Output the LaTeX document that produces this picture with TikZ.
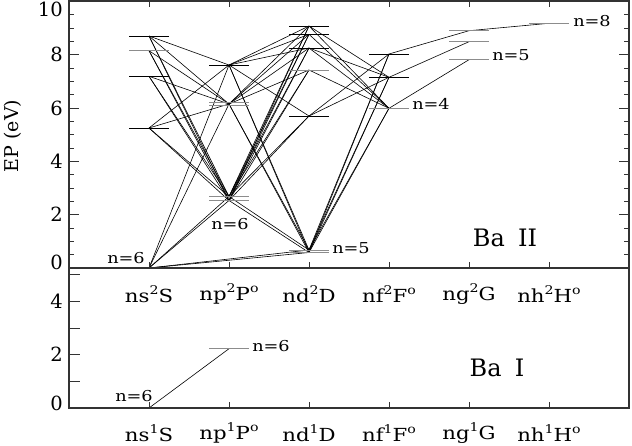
\documentclass[tikz,border=0pt]{standalone}
\usepackage{fontspec}
\setmainfont{DejaVu Serif}
\newcommand{\sps}[1]{\raisebox{0.45em}{\fontsize{12}{12}\selectfont #1}}
\newcommand{\wide}[1]{\scalebox{1.18}[1]{#1}}
\begin{document}
\begin{tikzpicture}[x=1pt,y=-1pt,
  frame/.style={line width=2pt, draw=black!80},
  tickm/.style={line width=1pt, draw=black!80},
  lev/.style={line width=1pt, draw=black},
  levg/.style={line width=1pt, draw=black!45},
  tr/.style={line width=0.6pt, draw=black},
  lab/.style={font=\fontsize{18}{20}\selectfont, inner sep=0pt},
  num/.style={font=\fontsize{19.5}{22}\selectfont, anchor=east, inner sep=0pt},
  nlab/.style={font=\fontsize{15}{16}\selectfont, inner sep=0pt},
  big/.style={font=\fontsize{24}{26}\selectfont, inner sep=0pt}]
\useasboundingbox (0,0) rectangle (632,445);
% ---- level coordinates (upper panel: y = 268 - 26.67 E) ----
\coordinate (S6) at (149,268);
\coordinate (S7) at (149,128);
\coordinate (S8) at (149,76.3);
\coordinate (S9) at (149,50.7);
\coordinate (S10) at (149,36);
\coordinate (P6a) at (229,196.5);
\coordinate (P6b) at (229,200.5);
\coordinate (P7) at (229,104);
\coordinate (P7a) at (229,102.5);
\coordinate (P7b) at (229,105.3);
\coordinate (P8) at (229,65);
\coordinate (D5a) at (309,250);
\coordinate (D5b) at (309,252.5);
\coordinate (D6) at (309,116);
\coordinate (D7) at (309,70);
\coordinate (D8) at (309,48);
\coordinate (D9) at (309,34.3);
\coordinate (D10) at (309,26);
\coordinate (F4) at (389,108.3);
\coordinate (F5) at (389,77.3);
\coordinate (F6) at (389,54);
\coordinate (G5) at (469,59.7);
\coordinate (G6) at (469,41.7);
\coordinate (G7) at (469,30.7);
\coordinate (H8) at (549,23.3);
\coordinate (BS6) at (149,408);
\coordinate (BP6) at (229,348.7);
% ---- transitions ----
\foreach \a/\b in {S6/P6a,S6/P6b,S6/P7,S6/P8,S6/D5a,S6/D5b,
  S7/P6a,S7/P6b,S7/P7,S7/P8,
  S8/P6a,S8/P6b,S8/P7,
  S9/P6a,S9/P6b,S9/P7,
  S10/P6a,S10/P6b,S10/P7,S10/P8,
  P6a/D5a,P6b/D5b,P6a/D6,P6b/D6,P6a/D7,P6b/D7,P6a/D8,P6b/D8,P6a/D9,P6b/D9,P6a/D10,P6b/D10,
  P7/D5a,P7/D5b,P7/D7,P7/D8,P7/D9,P7/D10,
  P8/D5a,P8/D5b,P8/D6,P8/D8,P8/D9,P8/D10,
  D5a/F4,D5b/F4,D5a/F5,D5b/F5,D5a/F6,D5b/F6,
  D6/F5,D6/F6,D7/F4,D8/F4,D8/F5,D9/F4,D10/F4,D10/F5,
  F4/G5,F5/G6,F6/G7,G7/H8,BS6/BP6}
  \draw[tr] (\a) -- (\b);
% ---- level bars ----
\foreach \l in {S6,S7,S8,S10,P8,D6,D8,D9,D10,F5,F6,BS6}
  \draw[lev] ([xshift=-20pt]\l) -- ([xshift=20pt]\l);
\foreach \l in {S9,P6a,P6b,P7a,P7b,D5a,D5b,D7,F4,G5,G6,G7,H8,BP6}
  \draw[levg] ([xshift=-20pt]\l) -- ([xshift=20pt]\l);
% ---- frame ----
\draw[frame] (69,1) rectangle (629,408);
\draw[frame] (69,268) -- (629,268);
% ticks
\foreach \i in {1,...,19} {
  \draw[tickm] (69,{268-13.333*\i}) -- ++(5,0);
  \draw[tickm] (629,{268-13.333*\i}) -- ++(-5,0);
}
\foreach \e in {2,4,6,8} {
  \draw[tickm] (69,{268-26.667*\e}) -- ++(10,0);
  \draw[tickm] (629,{268-26.667*\e}) -- ++(-10,0);
}
\foreach \e in {1,...,5}
  \draw[tickm] (69,{408-26.667*\e}) -- ++(11,0);
\foreach \k in {0,...,5} {
  \draw[tickm] ({149+80*\k},1) -- ++(0,6);
  \draw[tickm] ({149+80*\k},268) -- ++(0,-6);
  \draw[tickm] ({149+80*\k},408) -- ++(0,-6);
}
% ---- axis numbers ----
\node[num] (t10) at (63,9) {10};
\node[num] (t8) at (63,54.6) {8};
\node[num] (t6) at (63,108) {6};
\node[num] (t4) at (63,161.3) {4};
\node[num] (t2) at (63,214.7) {2};
\node[num] (t0) at (63,262) {0};
\node[num] (b4) at (63,301.3) {4};
\node[num] (b2) at (63,354.7) {2};
\node[num] (b0) at (63,403) {0};
\node[lab, rotate=90, font=\fontsize{19}{22}\selectfont] (ylab) at (13,136) {EP (eV)};
% ---- column labels ----
\node[lab] (cs2) at (149,294) {\wide{ns\sps{2}S}};
\node[lab] (cp2) at (229,294) {\wide{np\sps{2}P\sps{o}}};
\node[lab] (cd2) at (309,294) {\wide{nd\sps{2}D}};
\node[lab] (cf2) at (389,294) {\wide{nf\sps{2}F\sps{o}}};
\node[lab] (cg2) at (469,294) {\wide{ng\sps{2}G}};
\node[lab] (ch2) at (549,294) {\wide{nh\sps{2}H\sps{o}}};
\node[lab] (cs1) at (149,433) {\wide{ns\sps{1}S}};
\node[lab] (cp1) at (229,433) {\wide{np\sps{1}P\sps{o}}};
\node[lab] (cd1) at (309,433) {\wide{nd\sps{1}D}};
\node[lab] (cf1) at (389,433) {\wide{nf\sps{1}F\sps{o}}};
\node[lab] (cg1) at (469,433) {\wide{ng\sps{1}G}};
\node[lab] (ch1) at (549,433) {\wide{nh\sps{1}H\sps{o}}};
% ---- n labels ----
\node[nlab] (n1) at (126,258) {\wide{n=6}};
\node[nlab] (n2) at (230,224) {\wide{n=6}};
\node[nlab] (n3) at (351,248) {\wide{n=5}};
\node[nlab] (n4) at (431,104) {\wide{n=4}};
\node[nlab] (n5) at (511,55) {\wide{n=5}};
\node[nlab] (n6) at (592,21) {\wide{n=8}};
\node[nlab] (n7) at (134,396) {\wide{n=6}};
\node[nlab] (n8) at (271,346) {\wide{n=6}};
\node[big] (ba2) at (505,238) {Ba\hspace{0.55em}II};
\node[big] (ba1) at (497,368) {Ba\hspace{0.55em}I};
\end{tikzpicture}
\end{document}
